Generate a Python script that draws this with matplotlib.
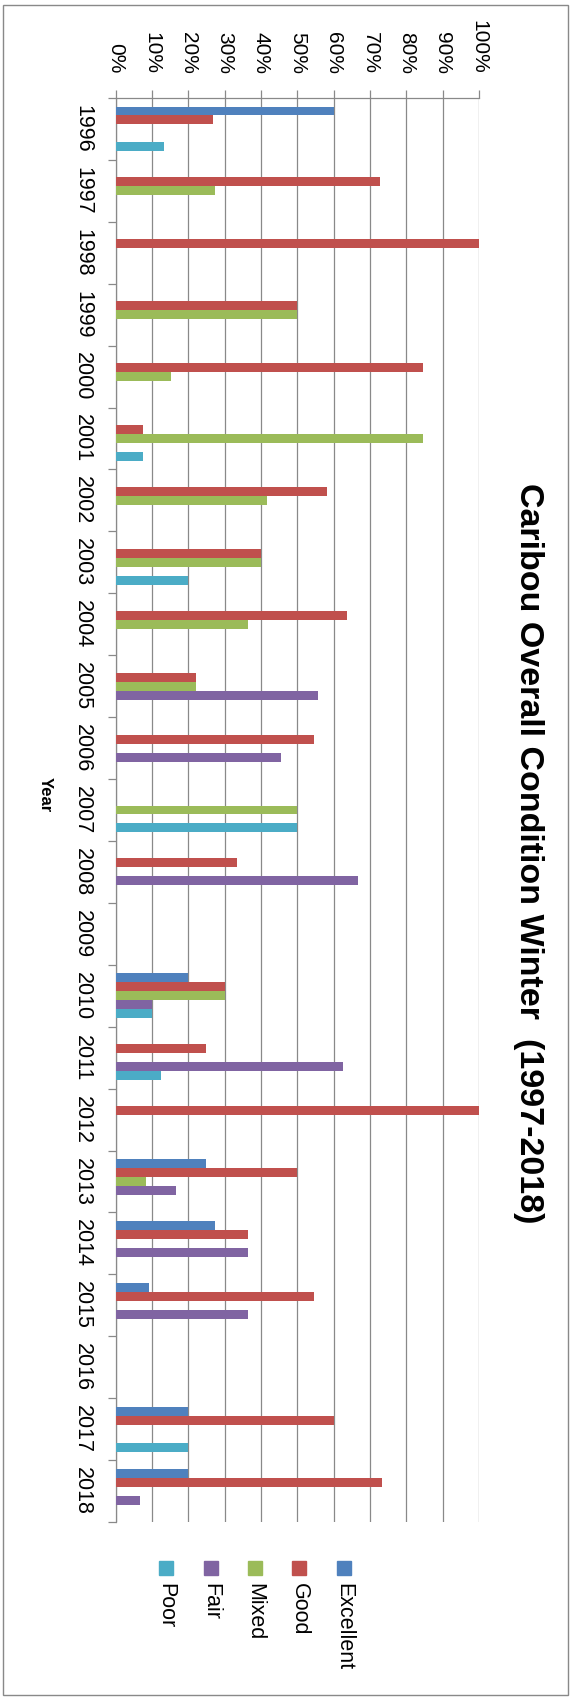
import matplotlib
matplotlib.use("Agg")
import matplotlib.pyplot as plt
import matplotlib.patches as patches
import numpy as np

W, H = 571, 1700

YEARS     = [str(y) for y in range(1996, 2019)]
EXCELLENT = [60, 0, 0, 0, 0, 0, 0, 0, 0, 0, 0, 0, 0, 0, 20, 0, 0, 25, 27.3, 9.1, 0, 20, 20]
GOOD      = [26.7, 72.7, 100, 50, 84.6, 7.7, 58.3, 40, 63.6, 22.2, 54.5, 0, 33.3, 0, 30, 25, 100, 50, 36.4, 54.5, 0, 60, 73.3]
MIXED     = [0, 27.3, 0, 50, 15.4, 84.6, 41.7, 40, 36.4, 22.2, 0, 50, 0, 0, 30, 0, 0, 8.3, 0, 0, 0, 0, 0]
FAIR      = [0, 0, 0, 0, 0, 0, 0, 0, 0, 55.6, 45.5, 0, 66.7, 0, 10, 62.5, 0, 16.7, 36.4, 36.4, 0, 0, 6.7]
POOR      = [13.3, 0, 0, 0, 0, 7.7, 0, 20, 0, 0, 0, 50, 0, 0, 10, 12.5, 0, 0, 0, 0, 0, 20, 0]

SERIES = ["Excellent", "Good", "Mixed", "Fair", "Poor"]
COLORS = ["#4F81BD", "#C0504D", "#9BBB59", "#8064A2", "#4BACC6"]

GRID = "#898989"
FONT = "Liberation Sans"


def px(x, y):
    # pixel coords (from top-left) -> figure fraction
    return x / W, 1 - y / H


def main() -> None:
    plt.rcParams["font.family"] = [FONT, "DejaVu Sans"]
    fig = plt.figure(figsize=[W / 100, H / 100], dpi=100)

    left, top, right, bottom = 115.5, 98, 479, 1522
    axes = fig.add_axes([left / W, 1 - bottom / H, (right - left) / W, (bottom - top) / H])

    values = [EXCELLENT, GOOD, MIXED, FAIR, POOR]
    n = len(YEARS)
    pos = np.arange(n)
    h = 0.145
    for i, (vals, color) in enumerate(zip(values, COLORS)):
        axes.barh(pos + (i - 2) * h, vals, height=h, color=color, zorder=3)

    axes.set_xlim(0, 100)
    axes.set_ylim(n - 0.5, -0.5)

    # value axis on top
    axes.xaxis.tick_top()
    axes.set_xticks(np.arange(0, 101, 10))
    axes.set_xticklabels([f"{v}%" for v in range(0, 101, 10)], rotation=-90, fontsize=15,
                         ha="center", va="bottom")
    axes.tick_params(axis="x", length=5.5, width=0.9, color=GRID, pad=12)
    axes.grid(axis="x", color=GRID, linewidth=0.9, zorder=0)

    # category axis
    axes.set_yticks(np.arange(n + 1) - 0.5)
    axes.set_yticklabels([])
    axes.set_yticks(pos, minor=True)
    axes.set_yticklabels(YEARS, minor=True, rotation=-90, fontsize=15.5, ha="right", va="center")
    axes.tick_params(axis="y", which="major", length=5.75, width=0.9, color=GRID)
    axes.tick_params(axis="y", which="minor", length=0, pad=16)

    for side in ["right", "bottom"]:
        axes.spines[side].set_visible(False)
    for side in ["left", "top"]:
        axes.spines[side].set_color(GRID)
        axes.spines[side].set_linewidth(0.9)

    fig.text(*px(45, 795), "Year", rotation=-90, fontsize=12, fontweight="bold",
             ha="center", va="center")
    fig.text(*px(528, 853), "Caribou Overall Condition Winter  (1997-2018)", rotation=-90,
             fontsize=24.5, fontweight="bold", ha="center", va="center")

    # legend, drawn the same rotated way as the chart
    xs = [344, 299, 255, 211, 166]
    for name, color, x in zip(SERIES, COLORS, xs):
        x0, y0 = px(x - 7, 1575)
        fig.add_artist(patches.Rectangle((x0, y0), 14 / W, 14 / H, transform=fig.transFigure,
                                         color=color))
        fig.text(*px(x, 1583), name, rotation=-90, fontsize=15.5, ha="center", va="top")

    fx, fy = px(3, 1695)
    fig.add_artist(patches.Rectangle((fx, fy), 565 / W, 1690 / H, transform=fig.transFigure,
                                     fill=False, edgecolor=GRID, linewidth=1.0))

    fig.savefig("out.png", dpi=100)


if __name__ == '__main__':
    main()
